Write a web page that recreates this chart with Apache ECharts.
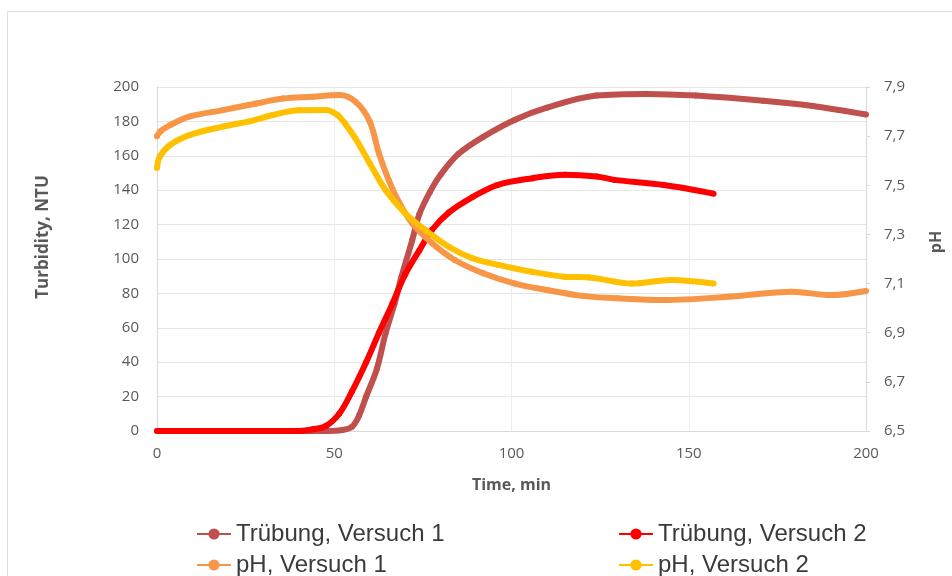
<!DOCTYPE html>
<html>
<head>
<meta charset="utf-8">
<script src="https://cdn.jsdelivr.net/npm/echarts@6/dist/echarts.min.js"></script>
<style>
html,body{margin:0;padding:0;background:#fff;}
#c{width:952px;height:576px;}
</style>
</head>
<body>
<div id="c"></div>
<script>
// ---- data ----
const seriesNames = ['Trübung, Versuch 1', 'Trübung, Versuch 2', 'pH, Versuch 1', 'pH, Versuch 2'];

const timeTrub1 = [0,10,20,30,40,48,52,55,57,59,62,64.5,67,69,72,74,77,80,85,92,101,110,124,138,152,171,185,200];
const trub1     = [0,0,0,0,0,0,0.5,2.5,9,20,36,57,74,90,111,126,139,149,161,171,181,188,195,196,195,192,189,184];

const timeTrub2 = [0,10,20,30,40,44,47.7,51.4,55,59,62.6,66.4,70,74,77.6,82.3,89,96,106,115,124,129,143,157];
const trub2     = [0,0,0,0,0,1,3,10,23,40,57,74,91,105,117,127,136,143,147,149,148,146,143,138];

const timePh1 = [0,1,3.7,9.3,18.6,28,35.5,43.9,51.4,56,60,62.6,65.4,68.3,72,77.6,84,92,101,110,120,130,143,162,179,190,200];
const ph1     = [7.70,7.72,7.745,7.78,7.806,7.833,7.853,7.86,7.867,7.84,7.76,7.63,7.52,7.43,7.345,7.264,7.196,7.142,7.10,7.074,7.05,7.04,7.033,7.047,7.067,7.053,7.07];

const timePh2 = [0,0.8,3.7,9.3,18.6,26,32.7,40,47.7,51,53,56,60,64.5,70,75.7,82.3,89,96.3,105.7,115,122,134,145,157];
const ph2     = [7.57,7.617,7.664,7.705,7.739,7.76,7.786,7.805,7.806,7.785,7.752,7.69,7.59,7.48,7.386,7.318,7.25,7.203,7.176,7.148,7.128,7.125,7.10,7.115,7.10];

const xTicks = {min: 0, max: 200, interval: 50};
const yLeftTicks = {min: 0, max: 200, interval: 20};
const yRightTicks = {min: 6.5, max: 7.9, interval: 0.2};

const colors = ['#C0504D', '#FF0000', '#F79646', '#FFC000'];

function pairs(xs, ys){ return xs.map((x,i)=>[x, ys[i]]); }

const chart = echarts.init(document.getElementById('c'), null, {renderer:'canvas'});
const labelColor = '#595959';
const font = 'Open Sans';
function mkSeries(i, data, yIdx){
  return {
    name: seriesNames[i], type: 'line', yAxisIndex: yIdx, data: data,
    smooth: 0.35,
    symbol: 'circle', symbolSize: 6, showAllSymbol: true,
    lineStyle: {width: 6, color: colors[i]},
    itemStyle: {color: colors[i]},
    emphasis: {disabled: true}, animation: false, z: 2 + i
  };
}
function mkLegend(name, left, top){
  return {
    orient: 'horizontal', left: left, top: top, itemWidth: 34, itemHeight: 14,
    data: [name],
    textStyle: {fontFamily: 'Liberation Sans', fontSize: 24, color: '#3a3a3a'}
  };
}
chart.setOption({
  animation: false,
  color: colors,
  graphic: [{
    type: 'rect', shape: {x: 7.5, y: 11.5, width: 1000, height: 700},
    style: {fill: 'none', stroke: '#dedede', lineWidth: 1}, silent: true, z: -1
  }],
  grid: {left: 157, right: 83, top: 87, bottom: 145, containLabel: false},
  legend: [
    mkLegend(seriesNames[0], 191, 517),
    mkLegend(seriesNames[2], 191, 548),
    mkLegend(seriesNames[1], 613, 517),
    mkLegend(seriesNames[3], 613, 548)
  ],
  xAxis: {
    type: 'value', min: xTicks.min, max: xTicks.max, interval: xTicks.interval,
    name: 'Time, min', nameLocation: 'middle', nameGap: 46,
    nameTextStyle: {fontFamily: font, fontSize: 16, fontWeight: 'bold', color: labelColor},
    axisLine: {show: true, lineStyle: {color: '#d9d9d9'}},
    axisTick: {show: false},
    axisLabel: {margin: 15, fontFamily: font, fontSize: 15, color: labelColor},
    splitLine: {show: true, lineStyle: {color: '#eeeeee'}}
  },
  yAxis: [{
    type: 'value', position: 'left', min: yLeftTicks.min, max: yLeftTicks.max, interval: yLeftTicks.interval,
    name: 'Turbidity, NTU', nameLocation: 'middle', nameGap: 105,
    nameTextStyle: {fontFamily: font, fontSize: 17, fontWeight: 'bold', color: labelColor, padding: [0,0,0,44]},
    axisLine: {show: true, lineStyle: {color: '#d9d9d9'}},
    axisTick: {show: false},
    axisLabel: {margin: 18, fontFamily: font, fontSize: 15, color: labelColor},
    splitLine: {show: true, lineStyle: {color: '#e6e6e6'}}
  },{
    type: 'value', position: 'right', min: yRightTicks.min, max: yRightTicks.max, interval: yRightTicks.interval,
    name: 'pH', nameLocation: 'middle', nameGap: 62,
    nameTextStyle: {fontFamily: font, fontSize: 16, fontWeight: 'bold', color: labelColor, padding: [0,0,0,34]},
    axisLine: {show: true, lineStyle: {color: '#d9d9d9'}},
    axisTick: {show: true, length: 4, lineStyle: {color: '#d9d9d9'}},
    axisLabel: {margin: 18, fontFamily: font, fontSize: 15, color: labelColor,
      formatter: v => v.toFixed(1).replace('.', ',')},
    splitLine: {show: false}
  }],
  series: [
    mkSeries(0, pairs(timeTrub1, trub1), 0),
    mkSeries(1, pairs(timeTrub2, trub2), 0),
    mkSeries(2, pairs(timePh1, ph1), 1),
    mkSeries(3, pairs(timePh2, ph2), 1)
  ]
});
</script>
</body>
</html>
